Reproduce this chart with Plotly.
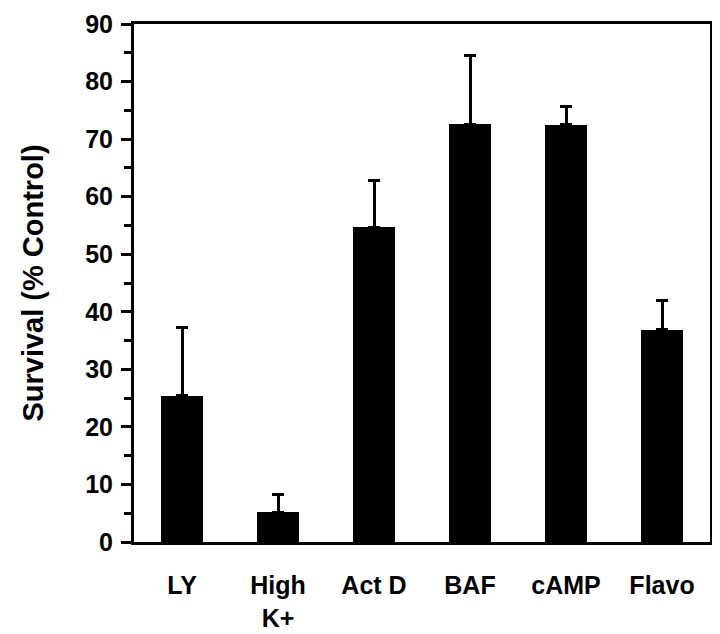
import plotly.graph_objects as go

categories = ["LY", "High<br>K+", "Act D", "BAF", "cAMP", "Flavo"]
survival = [25.4, 5.2, 54.7, 72.6, 72.5, 36.9]
error_up = [11.9, 3.1, 8.1, 12.0, 3.1, 5.0]
y_ticks = [0, 10, 20, 30, 40, 50, 60, 70, 80, 90]

FONT = "Liberation Sans, Arial, sans-serif"

fig = go.Figure(
    go.Bar(
        x=categories,
        y=survival,
        width=0.43,
        marker=dict(color="black", line=dict(width=0)),
        error_y=dict(
            type="data",
            array=error_up,
            arrayminus=[0] * len(error_up),
            symmetric=False,
            color="black",
            thickness=3,
            width=6,
        ),
    )
)

fig.update_layout(
    width=712,
    height=626,
    margin=dict(l=126, r=10, t=16, b=92, autoexpand=False),
    paper_bgcolor="white",
    plot_bgcolor="white",
    showlegend=False,
    font=dict(family=FONT, color="black", size=25),
    bargap=0,
)

fig.update_xaxes(
    type="category",
    range=[-0.5, 5.5],
    automargin=False,
    showline=True,
    linecolor="black",
    linewidth=3,
    mirror=True,
    ticks="",
    showgrid=False,
    tickfont=dict(family=FONT, size=25, color="black", weight="bold"),
    ticklabelstandoff=19,
)

fig.update_yaxes(
    range=[0, 90],
    tickvals=y_ticks,
    automargin=False,
    ticklabeloverflow="allow",
    showline=True,
    linecolor="black",
    linewidth=3,
    mirror=True,
    ticks="outside",
    ticklen=10,
    tickwidth=3,
    tickcolor="black",
    minor=dict(dtick=5, ticks="outside", ticklen=7, tickwidth=3, tickcolor="black", showgrid=False),
    showgrid=False,
    zeroline=False,
    tickfont=dict(family=FONT, size=25, color="black", weight="bold"),
    ticklabelstandoff=3,
    title=dict(
        text="Survival (% Control)",
        font=dict(family=FONT, size=29, color="black", weight="bold"),
        standoff=34,
    ),
)

fig.write_html("out.html")
